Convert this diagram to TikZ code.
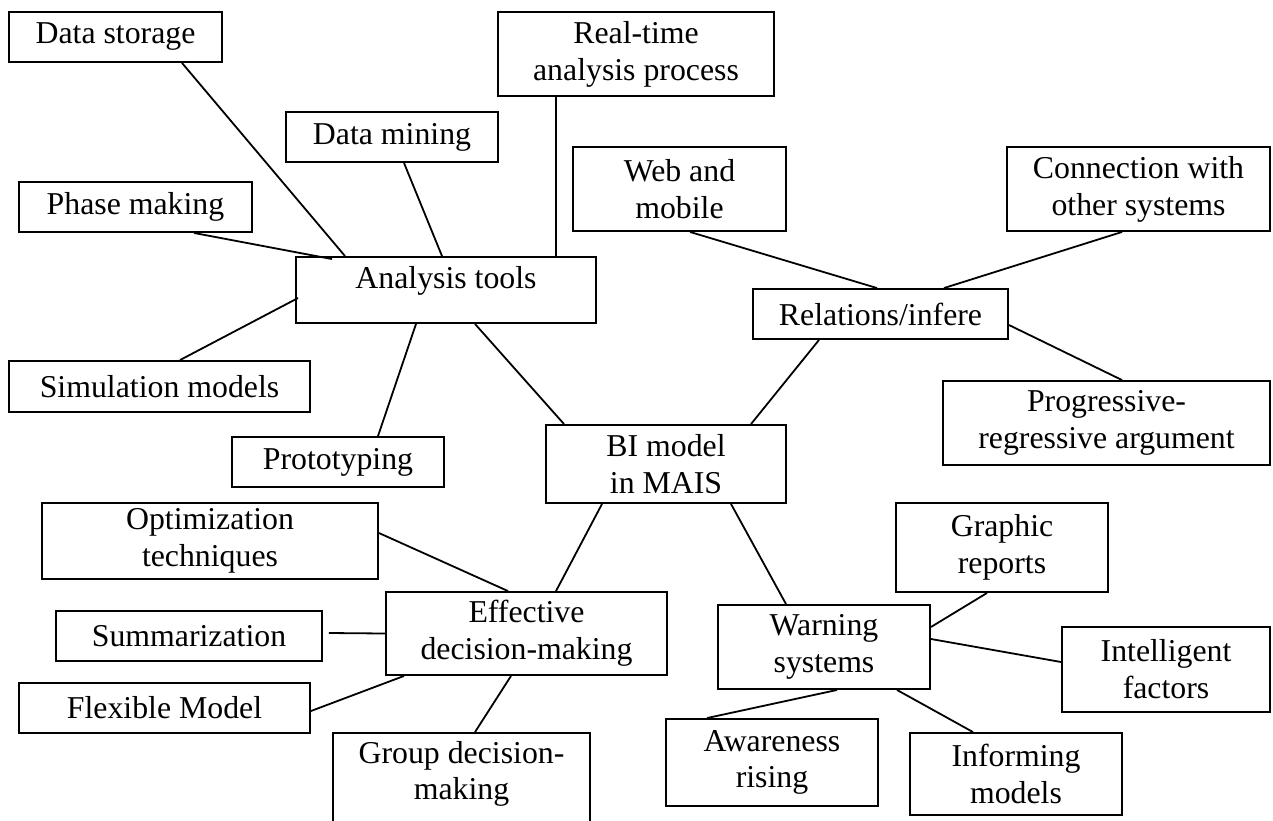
\documentclass[tikz,border=0pt]{standalone}
\usepackage{fontspec}
\setmainfont{Liberation Serif}
\usepackage{tikz}

\begin{document}
\begin{tikzpicture}[x=1pt, y=-1pt, every node/.style={font=\fontsize{31.8}{36.8}\selectfont}]
        % Define box and line styles
        \tikzstyle{box} = [rectangle, draw, line width=1.9pt, inner sep=0pt, align=center]
        \tikzstyle{link} = [line width=1.8pt]

        \useasboundingbox (0,0) rectangle (1273,820);

        % Analysis tools branch
        \node (tools) [box, minimum width=300, minimum height=66, text depth=26pt] at (446,290) {Analysis tools};
        \node (store) [box, minimum width=213, minimum height=50] at (115.5,37) {Data storage};
        \node (realtime) [box, minimum width=276, minimum height=84] at (636,54) {Real-time\\analysis process};
        \node (mining) [box, minimum width=212, minimum height=50] at (392,137) {Data mining};
        \node (phase) [box, minimum width=233, minimum height=50] at (135.5,207) {Phase making};
        \node (sim) [box, minimum width=301, minimum height=51] at (159.5,386.5) {Simulation models};
        \node (proto) [box, minimum width=212, minimum height=50] at (338,462) {Prototyping};

        % Relations branch
        \node (rel) [box, minimum width=255, minimum height=50] at (880.5,314) {Relations/infere};
        \node (web) [box, minimum width=213, minimum height=84] at (679.5,189) {Web and\\mobile};
        \node (conn) [box, minimum width=263, minimum height=84] at (1138.5,189) {Connection with\\other systems};
        \node (prog) [box, minimum width=327, minimum height=84] at (1106.5,423) {Progressive-\\regressive argument};

        % Centre
        \node (bi) [box, minimum width=240, minimum height=78] at (666,464) {BI model\\in MAIS};

        % Decision-making branch
        \node (eff) [box, minimum width=281, minimum height=83] at (526.5,633.5) {Effective\\decision-making};
        \node (opt) [box, minimum width=336, minimum height=76] at (210,541) {Optimization\\techniques};
        \node (summ) [box, minimum width=266, minimum height=50] at (189,636) {Summarization};
        \node (flex) [box, minimum width=291, minimum height=50] at (164.5,708) {Flexible Model};
        \node (group) [box, minimum width=257, minimum height=112, text depth=37pt] at (461.5,789) {Group decision-\\making};

        % Warning branch
        \node (warn) [box, minimum width=212, minimum height=84] at (824,647) {Warning\\systems};
        \node (graphic) [box, minimum width=212, minimum height=89] at (1002,547.5) {Graphic\\reports};
        \node (intel) [box, minimum width=208, minimum height=85] at (1166,669.5) {Intelligent\\factors};
        \node (aware) [box, minimum width=212, minimum height=87] at (772,762.5) {Awareness\\rising};
        \node (inform) [box, minimum width=212, minimum height=82] at (1016,774) {Informing\\models};

        % Lines
        \draw [link] ([xshift=66.5pt]store.south) -- ([xshift=-101pt]tools.north);
        \draw [link] ([xshift=58.5pt]phase.south) -- ([xshift=37pt,yshift=-3pt]tools.north west);
        \draw [link] ([xshift=12pt]mining.south) -- ([xshift=-4pt]tools.north);
        \draw [link] ([xshift=-80pt]realtime.south) -- ([xshift=110pt]tools.north);
        \draw [link] ([xshift=20.5pt]sim.north) -- ([xshift=3pt,yshift=-8pt]tools.west);
        \draw [link] ([xshift=40pt]proto.north) -- ([xshift=-30pt]tools.south);
        \draw [link] ([xshift=29pt]tools.south) -- ([xshift=-102pt]bi.north);

        \draw [link] ([xshift=-61.5pt]rel.south) -- ([xshift=85pt]bi.north);
        \draw [link] ([xshift=10.5pt]web.south) -- ([xshift=-3.5pt]rel.north);
        \draw [link] ([xshift=-16.5pt]conn.south) -- ([xshift=63.5pt]rel.north);
        \draw [link] ([yshift=-11pt]rel.east) -- ([xshift=15.5pt]prog.north);

        \draw [link] ([xshift=-64pt]bi.south) -- ([xshift=29.5pt]eff.north);
        \draw [link] ([xshift=65pt]bi.south) -- ([xshift=-38pt]warn.north);

        \draw [link] ([yshift=8pt]opt.east) -- ([xshift=-18.5pt]eff.north);
        \draw [link] ([xshift=6pt,yshift=3pt]summ.east) -- (eff.west);
        \draw [link] ([yshift=-3pt]flex.east) -- ([xshift=-122.5pt]eff.south);
        \draw [link] ([xshift=-15.5pt]eff.south) -- ([xshift=13.5pt]group.north);

        \draw [link] ([xshift=-15pt]graphic.south) -- ([yshift=20pt]warn.east);
        \draw [link] ([yshift=8pt]warn.east) -- ([yshift=7.5pt]intel.west);
        \draw [link] ([xshift=73pt]warn.south) -- ([xshift=-43pt]inform.north);
        \draw [link] ([xshift=13pt]warn.south) -- ([xshift=-65pt]aware.north);
\end{tikzpicture}
\end{document}
